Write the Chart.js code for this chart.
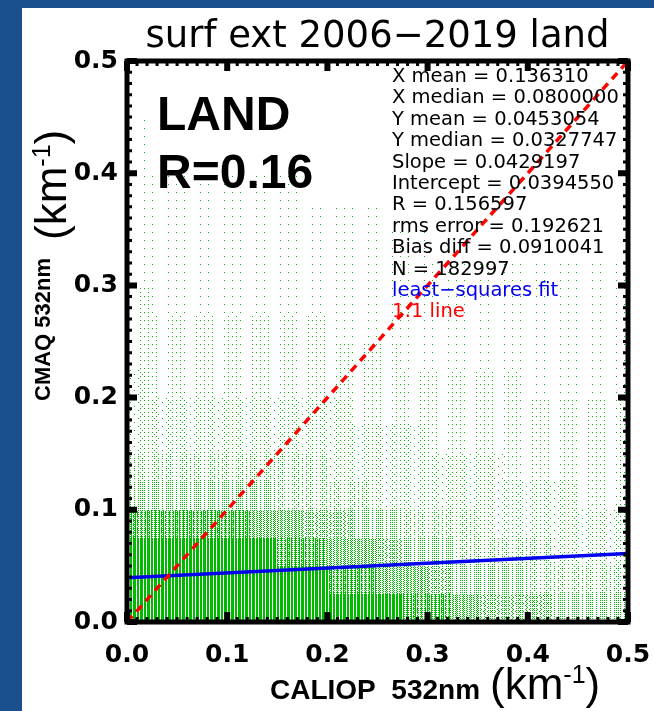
<!DOCTYPE html>
<html lang="en">
<head>
<meta charset="UTF-8">
<title>surf ext 2006-2019 land</title>
<script src="https://cdn.jsdelivr.net/npm/chart.js"></script>
<style>
  html, body { margin: 0; padding: 0; background: #1b4e8d; }
  canvas { display: block; }
</style>
</head>
<body>
<canvas id="scatterChart" width="654" height="711"></canvas>
<script>
// axis ticks, km-1
const tickValues = [0.0, 0.1, 0.2, 0.3, 0.4, 0.5];

// 1:1 line and least-squares fit, end points at x = 0 and x = 0.5
const oneToOneX = [0.0, 0.5];
const oneToOneY = [0.0, 0.5];
const fitX = [0.0, 0.5];
const fitY = [0.0395, 0.0610];

// density of the CALIOP / CMAQ pairs read off the scatter cloud, 0 (none) .. 9 (solid)
// 0.025 km-1 bins, rows run from y = 0.5 down to y = 0, columns from x = 0 to 0.5
const binSize = 0.025;
const densityRows = [
  '00000000000000000000',
  '00000000000000000000',
  '10000000000000000000',
  '10000000000000000000',
  '11111110000000000000',
  '11111111110000000000',
  '11111111111100000000',
  '11111111111111111111',
  '21111111111111111111',
  '22222222111111111111',
  '22222222222111111111',
  '32222222222222221111',
  '33333333322222222222',
  '33333333333322222222',
  '44444444333333322222',
  '55555544443333333322',
  '88888776655444333333',
  '99999988776554444333',
  '99999999887765554444',
  '99999999999887666555'
];

// statistics box
const statLines = [
  'X mean = 0.136310',
  'X median = 0.0800000',
  'Y mean = 0.0453054',
  'Y median = 0.0327747',
  'Slope = 0.0429197',
  'Intercept = 0.0394550',
  'R = 0.156597',
  'rms error = 0.192621',
  'Bias diff = 0.0910041',
  'N = 182997'
];

// share of pixels lit for each density level
const coverage = [0, 0.012, 0.04, 0.09, 0.15, 0.24, 0.35, 0.5, 0.7, 1.0];

// stipple textures: ordered dither, with gaps every few columns
// because the x values come in discrete steps
const bayer2 = [[0, 2], [3, 1]];
const bayer4 = [[0, 8, 2, 10], [12, 4, 14, 6], [3, 11, 1, 9], [15, 7, 13, 5]];
const stripeMask = [1, 1, 1, 0, 1, 1, 0];
const textures = coverage.map(f => {
  const c = document.createElement('canvas');
  c.width = 56;
  c.height = 8;
  const t = c.getContext('2d');
  t.fillStyle = 'rgb(0,185,0)';
  for (let j = 0; j < 8; j++) {
    for (let i = 0; i < 56; i++) {
      const b = 4 * bayer4[j % 4][i % 4] + bayer2[Math.floor(j / 4)][Math.floor((i % 8) / 4)];
      if (stripeMask[i % 7] && b < f * 64) t.fillRect(i, j, 1, 1);
    }
  }
  return c;
});

const backgroundPlugin = {
  id: 'slideBackground',
  beforeDraw(chart) {
    const ctx = chart.ctx;
    ctx.save();
    ctx.fillStyle = '#1b4e8d';
    ctx.fillRect(0, 0, chart.width, chart.height);
    ctx.fillStyle = '#ffffff';
    ctx.fillRect(22, 8, chart.width - 22, chart.height - 8);
    ctx.restore();
  }
};

const densityPlugin = {
  id: 'density',
  beforeDatasetsDraw(chart) {
    const { ctx, chartArea, scales: { x, y } } = chart;
    const patterns = textures.map(c => ctx.createPattern(c, 'repeat'));
    ctx.save();
    ctx.beginPath();
    ctx.rect(chartArea.left, chartArea.top, chartArea.width, chartArea.height);
    ctx.clip();
    densityRows.forEach((row, r) => {
      const yHi = 0.5 - r * binSize;
      for (let c = 0; c < row.length; c++) {
        const d = +row[c];
        if (!d) continue;
        const x0 = Math.round(x.getPixelForValue(c * binSize));
        const x1 = Math.round(x.getPixelForValue((c + 1) * binSize));
        const y0 = Math.round(y.getPixelForValue(yHi));
        const y1 = Math.round(y.getPixelForValue(yHi - binSize));
        ctx.fillStyle = patterns[d];
        ctx.fillRect(x0, y0, x1 - x0, y1 - y0);
      }
    });
    ctx.restore();
  }
};

const framePlugin = {
  id: 'frame',
  afterDatasetsDraw(chart) {
    const { ctx, chartArea: a, scales: { x, y } } = chart;
    ctx.save();
    ctx.strokeStyle = '#000';
    ctx.lineCap = 'butt';
    // minor ticks every 0.01, major on the labels
    for (let i = 0; i <= 50; i++) {
      const v = i / 100;
      const major = i % 10 === 0;
      const len = major ? 10 : 5;
      ctx.lineWidth = major ? 6 : 3;
      const px = x.getPixelForValue(v);
      const py = y.getPixelForValue(v);
      ctx.beginPath();
      ctx.moveTo(px, a.bottom); ctx.lineTo(px, a.bottom - len);
      ctx.moveTo(px, a.top); ctx.lineTo(px, a.top + len);
      ctx.moveTo(a.left, py); ctx.lineTo(a.left + len, py);
      ctx.moveTo(a.right, py); ctx.lineTo(a.right - len, py);
      ctx.stroke();
    }
    ctx.lineWidth = 5;
    ctx.strokeRect(a.left, a.top, a.right - a.left, a.bottom - a.top);
    ctx.restore();
  }
};

const textPlugin = {
  id: 'labels',
  afterDraw(chart) {
    const { ctx, chartArea: a } = chart;
    ctx.save();
    ctx.fillStyle = '#000';
    ctx.textBaseline = 'alphabetic';

    // title
    ctx.font = '37px "DejaVu Sans"';
    ctx.textAlign = 'center';
    ctx.fillText('surf ext 2006\u22122019 land', (a.left + a.right) / 2, 47);

    // big label
    ctx.textAlign = 'left';
    ctx.font = 'bold 48px "Liberation Sans"';
    ctx.fillText('LAND', a.left + 30, 130);
    ctx.fillText('R=0.16', a.left + 30, 188);

    // statistics
    ctx.font = '19.5px "DejaVu Sans"';
    statLines.forEach((s, i) => ctx.fillText(s, 392, 82 + i * 21.4));
    ctx.fillStyle = '#0000ee';
    ctx.fillText('least\u2212squares fit', 392, 82 + 10 * 21.4);
    ctx.fillStyle = '#ff0000';
    ctx.fillText('1:1 line', 392, 82 + 11 * 21.4);

    // x axis title
    ctx.fillStyle = '#000';
    ctx.font = 'bold 28px "Liberation Sans"';
    ctx.fillText('CALIOP  532nm', 270, 699);
    let cx = 490;
    ctx.font = '44px "Liberation Sans"';
    ctx.fillText('(km', cx, 699);
    cx += ctx.measureText('(km').width;
    ctx.font = '25px "Liberation Sans"';
    ctx.fillText('-1', cx, 683);
    cx += ctx.measureText('-1').width;
    ctx.font = '44px "Liberation Sans"';
    ctx.fillText(')', cx, 699);

    // y axis title, rotated
    ctx.save();
    ctx.translate(50, 401);
    ctx.rotate(-Math.PI / 2);
    ctx.font = 'bold 22px "Liberation Sans"';
    ctx.fillText('CMAQ 532nm', 0, 0);
    ctx.restore();

    ctx.translate(66, 240);
    ctx.rotate(-Math.PI / 2);
    let ty = 0;
    ctx.font = '44px "Liberation Sans"';
    ctx.fillText('(km', ty, 0);
    ty += ctx.measureText('(km').width;
    ctx.font = '25px "Liberation Sans"';
    ctx.fillText('-1', ty, -16);
    ty += ctx.measureText('-1').width;
    ctx.font = '44px "Liberation Sans"';
    ctx.fillText(')', ty, 0);
    ctx.restore();
  }
};

const tickFont = { family: 'DejaVu Sans', weight: 'bold', size: 25 };

const ctx = document.getElementById('scatterChart').getContext('2d');
const chart = new Chart(ctx, {
  type: 'scatter',
  data: {
    datasets: [
      {
        label: '1:1 line',
        data: oneToOneX.map((v, i) => ({ x: v, y: oneToOneY[i] })),
        showLine: true,
        borderColor: '#ff0000',
        borderWidth: 3.5,
        borderDash: [8, 6],
        pointRadius: 0
      },
      {
        label: 'least-squares fit',
        data: fitX.map((v, i) => ({ x: v, y: fitY[i] })),
        showLine: true,
        borderColor: '#0000ee',
        borderWidth: 3.5,
        pointRadius: 0
      }
    ]
  },
  options: {
    responsive: false,
    animation: false,
    events: [],
    layout: { padding: { left: 22, top: 61, right: 26, bottom: 0 } },
    plugins: {
      legend: { display: false },
      tooltip: { enabled: false }
    },
    scales: {
      x: {
        type: 'linear',
        min: 0,
        max: 0.5,
        afterBuildTicks: s => { s.ticks = tickValues.map(v => ({ value: v })); },
        afterFit: s => { s.height = 89; s.paddingLeft = 0; s.paddingRight = 0; },
        grid: { display: false, drawTicks: false },
        border: { display: false },
        ticks: {
          color: '#000',
          font: tickFont,
          padding: 18,
          maxRotation: 0,
          callback: v => v.toFixed(1)
        }
      },
      y: {
        type: 'linear',
        min: 0,
        max: 0.5,
        afterBuildTicks: s => { s.ticks = tickValues.map(v => ({ value: v })); },
        afterFit: s => { s.width = 105; s.paddingTop = 0; s.paddingBottom = 0; },
        grid: { display: false, drawTicks: false },
        border: { display: false },
        ticks: {
          color: '#000',
          font: tickFont,
          padding: 9,
          callback: v => v.toFixed(1)
        }
      }
    }
  },
  plugins: [backgroundPlugin, densityPlugin, framePlugin, textPlugin]
});
</script>
</body>
</html>
